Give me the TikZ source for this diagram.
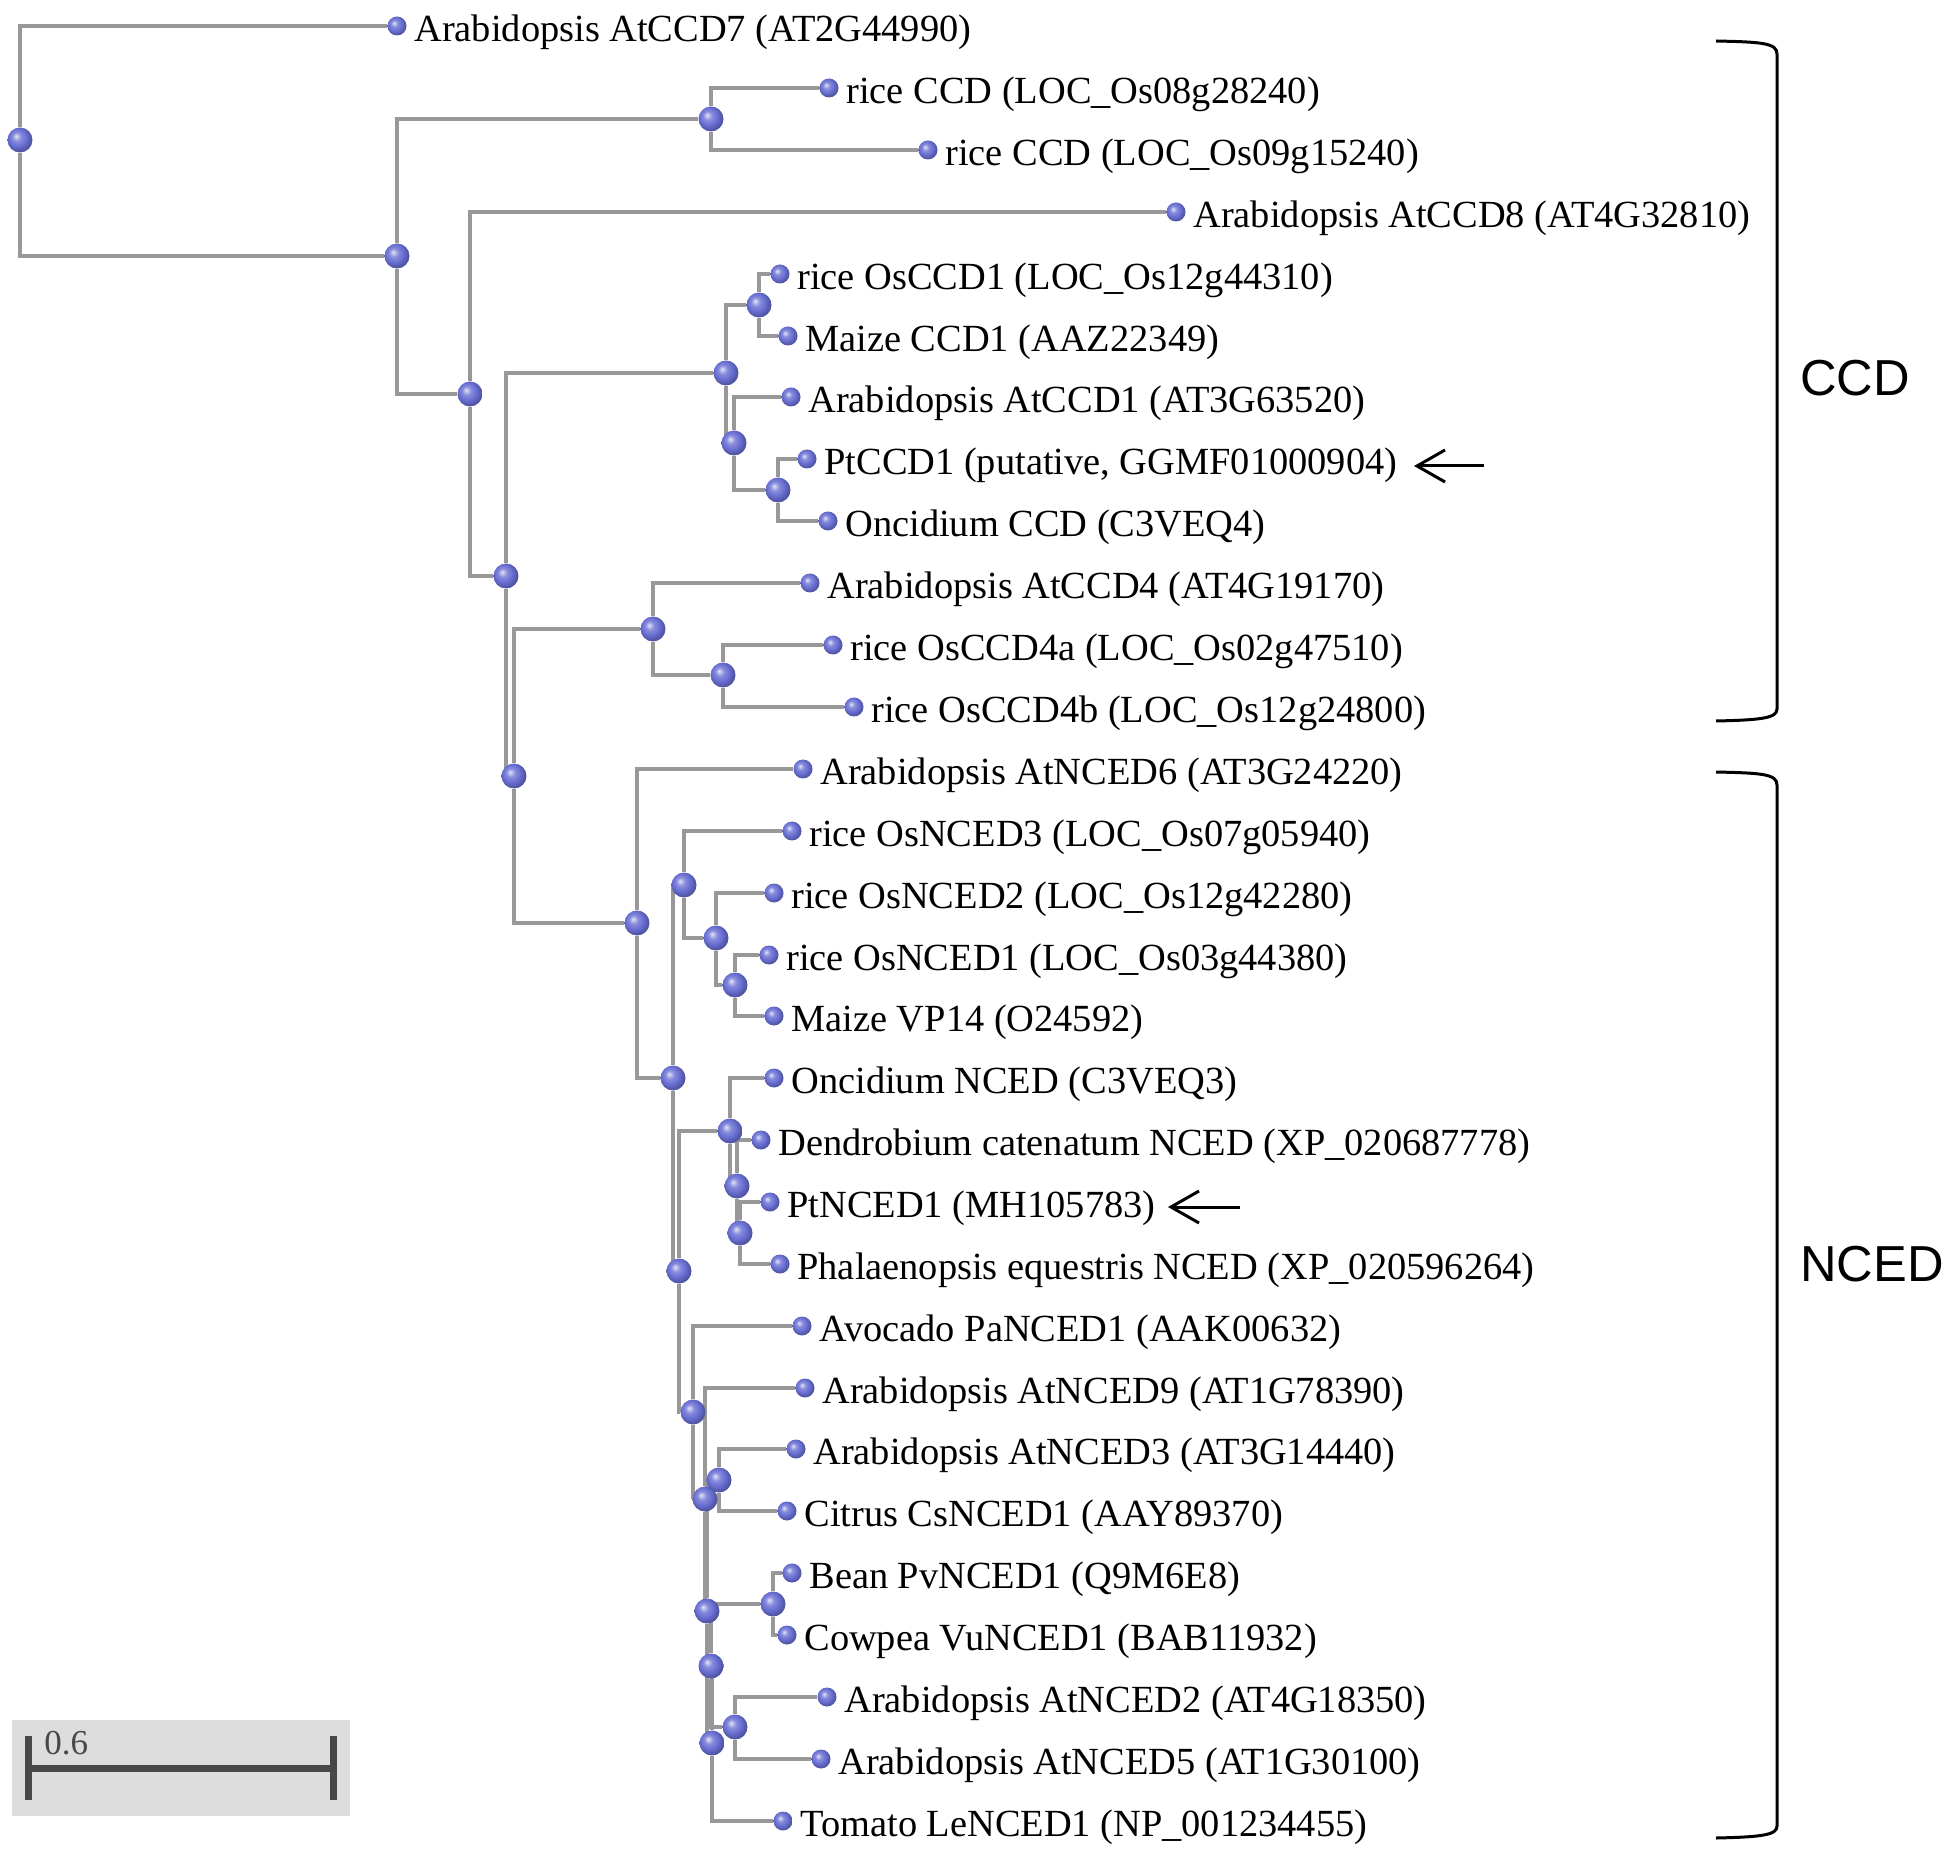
\documentclass[tikz,border=0pt]{standalone}
\usepackage{fontspec}
\setmainfont{Liberation Serif}
\newfontfamily\cladefont{Liberation Sans}
\usepackage{tikz}
\usetikzlibrary{arrows.meta, backgrounds, positioning}

\definecolor{branchgray}{RGB}{152,152,152}
\definecolor{ballblue}{RGB}{104,110,210}
\definecolor{scalebg}{RGB}{221,221,221}
\definecolor{scaledark}{RGB}{72,72,72}
\pgfdeclareradialshading{nodeball}{\pgfqpoint{-8bp}{8bp}}{color(0bp)=(ballblue!20!white); color(9bp)=(ballblue!80!white); color(18bp)=(ballblue); color(25bp)=(ballblue!80!black); color(50bp)=(ballblue!55!black)}

\begin{document}
\begin{tikzpicture}[x=0.5pt, y=-0.5pt,
			branch/.style={draw=branchgray, line width=1.7pt},
			inner/.style={circle, inner sep=0pt, minimum size=12.5pt, shade, shading=nodeball},
			leaf/.style={circle, inner sep=0pt, minimum size=9.5pt, shade, shading=nodeball},
			lab/.style={anchor=base west, inner sep=0pt, xshift=8.5pt, yshift=-7.75pt, font=\fontsize{19.2}{22}\selectfont},
			pointer/.style={-{Straight Barb[length=14pt,width=16pt]}, line width=1.5pt},
			brace/.style={line width=1.5pt},
			clade/.style={anchor=base west, inner sep=0pt, font=\cladefont\fontsize{25.3}{30}\selectfont}]
			
			\useasboundingbox (0,0) rectangle (1950,1850);
			
			\node[inner] (r) at (20,140) {};
			\node[inner] (n1) at (397,256) {};
			\node[inner] (n2) at (711,119) {};
			\node[inner] (n3) at (470,394) {};
			\node[inner] (n4) at (506,576) {};
			\node[inner] (n5) at (726,373) {};
			\node[inner] (n5a) at (759,305) {};
			\node[inner] (n5b) at (734,443) {};
			\node[inner] (n5c) at (778,490) {};
			\node[inner] (n6) at (514,776) {};
			\node[inner] (n6a) at (653,629) {};
			\node[inner] (n6b) at (723,675) {};
			\node[inner] (n7) at (637,923) {};
			\node[inner] (n8) at (673,1078) {};
			\node[inner] (n9) at (684,885) {};
			\node[inner] (n9a) at (716,938) {};
			\node[inner] (n9b) at (735,985) {};
			\node[inner] (n10) at (679,1271) {};
			\node[inner] (n10a) at (730,1131) {};
			\node[inner] (n10b) at (737,1186) {};
			\node[inner] (n10c) at (740,1233) {};
			\node[inner] (n11) at (693,1412) {};
			\node[inner] (n12) at (705,1499) {};
			\node[inner] (n13) at (707,1611) {};
			\node[inner] (n13a) at (719,1480) {};
			\node[inner] (n14) at (712,1743) {};
			\node[inner] (n15) at (711,1666) {};
			\node[inner] (n15a) at (773,1604) {};
			\node[inner] (n15b) at (735,1727) {};
			
			\node[leaf] (ccd7) at (397,26) {};     \node[lab] (ccd7-t) at (ccd7) {Arabidopsis AtCCD7 (AT2G44990)};
			\node[leaf] (os08) at (829,88) {};     \node[lab] (os08-t) at (os08) {rice CCD (LOC\_Os08g28240)};
			\node[leaf] (os09) at (928,150) {};    \node[lab] (os09-t) at (os09) {rice CCD (LOC\_Os09g15240)};
			\node[leaf] (ccd8) at (1176,212) {};   \node[lab] (ccd8-t) at (ccd8) {Arabidopsis AtCCD8 (AT4G32810)};
			\node[leaf] (osccd1) at (780,274) {};  \node[lab] (osccd1-t) at (osccd1) {rice OsCCD1 (LOC\_Os12g44310)};
			\node[leaf] (zmccd1) at (788,336) {};  \node[lab] (zmccd1-t) at (zmccd1) {Maize CCD1 (AAZ22349)};
			\node[leaf] (atccd1) at (791,397) {};  \node[lab] (atccd1-t) at (atccd1) {Arabidopsis AtCCD1 (AT3G63520)};
			\node[leaf] (ptccd1) at (807,459) {};  \node[lab] (ptccd1-t) at (ptccd1) {PtCCD1 (putative, GGMF01000904)};
			\node[leaf] (onccd) at (828,521) {};   \node[lab] (onccd-t) at (onccd) {Oncidium CCD (C3VEQ4)};
			\node[leaf] (atccd4) at (810,583) {};  \node[lab] (atccd4-t) at (atccd4) {Arabidopsis AtCCD4 (AT4G19170)};
			\node[leaf] (osccd4a) at (833,645) {}; \node[lab] (osccd4a-t) at (osccd4a) {rice OsCCD4a (LOC\_Os02g47510)};
			\node[leaf] (osccd4b) at (854,707) {}; \node[lab] (osccd4b-t) at (osccd4b) {rice OsCCD4b (LOC\_Os12g24800)};
			\node[leaf] (nced6) at (803,769) {};   \node[lab] (nced6-t) at (nced6) {Arabidopsis AtNCED6 (AT3G24220)};
			\node[leaf] (osnced3) at (792,831) {}; \node[lab] (osnced3-t) at (osnced3) {rice OsNCED3 (LOC\_Os07g05940)};
			\node[leaf] (osnced2) at (774,893) {}; \node[lab] (osnced2-t) at (osnced2) {rice OsNCED2 (LOC\_Os12g42280)};
			\node[leaf] (osnced1) at (769,955) {}; \node[lab] (osnced1-t) at (osnced1) {rice OsNCED1 (LOC\_Os03g44380)};
			\node[leaf] (vp14) at (774,1016) {};   \node[lab] (vp14-t) at (vp14) {Maize VP14 (O24592)};
			\node[leaf] (onnced) at (774,1078) {}; \node[lab] (onnced-t) at (onnced) {Oncidium NCED (C3VEQ3)};
			\node[leaf] (dcnced) at (761,1140) {}; \node[lab] (dcnced-t) at (dcnced) {Dendrobium catenatum NCED (XP\_020687778)};
			\node[leaf] (ptnced1) at (770,1202) {};\node[lab] (ptnced1-t) at (ptnced1) {PtNCED1 (MH105783)};
			\node[leaf] (penced) at (780,1264) {}; \node[lab] (penced-t) at (penced) {Phalaenopsis equestris NCED (XP\_020596264)};
			\node[leaf] (panced1) at (802,1326) {};\node[lab] (panced1-t) at (panced1) {Avocado PaNCED1 (AAK00632)};
			\node[leaf] (nced9) at (805,1388) {};  \node[lab] (nced9-t) at (nced9) {Arabidopsis AtNCED9 (AT1G78390)};
			\node[leaf] (nced3) at (796,1449) {};  \node[lab] (nced3-t) at (nced3) {Arabidopsis AtNCED3 (AT3G14440)};
			\node[leaf] (csnced1) at (787,1511) {};\node[lab] (csnced1-t) at (csnced1) {Citrus CsNCED1 (AAY89370)};
			\node[leaf] (pvnced1) at (792,1573) {};\node[lab] (pvnced1-t) at (pvnced1) {Bean PvNCED1 (Q9M6E8)};
			\node[leaf] (vunced1) at (787,1635) {};\node[lab] (vunced1-t) at (vunced1) {Cowpea VuNCED1 (BAB11932)};
			\node[leaf] (nced2) at (827,1697) {};  \node[lab] (nced2-t) at (nced2) {Arabidopsis AtNCED2 (AT4G18350)};
			\node[leaf] (nced5) at (821,1759) {};  \node[lab] (nced5-t) at (nced5) {Arabidopsis AtNCED5 (AT1G30100)};
			\node[leaf] (lenced1) at (783,1821) {};\node[lab] (lenced1-t) at (lenced1) {Tomato LeNCED1 (NP\_001234455)};
			
			\begin{scope}[on background layer]
				\draw[branch] (r) |- (ccd7);      \draw[branch] (r) |- (n1);
				\draw[branch] (n1) |- (n2);       \draw[branch] (n1) |- (n3);
				\draw[branch] (n2) |- (os08);     \draw[branch] (n2) |- (os09);
				\draw[branch] (n3) |- (ccd8);     \draw[branch] (n3) |- (n4);
				\draw[branch] (n4) |- (n5);       \draw[branch] (n4) |- (n6);
				\draw[branch] (n5) |- (n5a);      \draw[branch] (n5) |- (n5b);
				\draw[branch] (n5a) |- (osccd1);  \draw[branch] (n5a) |- (zmccd1);
				\draw[branch] (n5b) |- (atccd1);  \draw[branch] (n5b) |- (n5c);
				\draw[branch] (n5c) |- (ptccd1);  \draw[branch] (n5c) |- (onccd);
				\draw[branch] (n6) |- (n6a);      \draw[branch] (n6) |- (n7);
				\draw[branch] (n6a) |- (atccd4);  \draw[branch] (n6a) |- (n6b);
				\draw[branch] (n6b) |- (osccd4a); \draw[branch] (n6b) |- (osccd4b);
				\draw[branch] (n7) |- (nced6);    \draw[branch] (n7) |- (n8);
				\draw[branch] (n8) |- (n9);       \draw[branch] (n8) |- (n10);
				\draw[branch] (n9) |- (osnced3);  \draw[branch] (n9) |- (n9a);
				\draw[branch] (n9a) |- (osnced2); \draw[branch] (n9a) |- (n9b);
				\draw[branch] (n9b) |- (osnced1); \draw[branch] (n9b) |- (vp14);
				\draw[branch] (n10) |- (n10a);    \draw[branch] (n10) |- (n11);
				\draw[branch] (n10a) |- (onnced); \draw[branch] (n10a) |- (n10b);
				\draw[branch] (n10b) |- (dcnced); \draw[branch] (n10b) |- (n10c);
				\draw[branch] (n10c) |- (ptnced1);\draw[branch] (n10c) |- (penced);
				\draw[branch] (n11) |- (panced1); \draw[branch] (n11) |- (n12);
				\draw[branch] (n12) |- (nced9);   \draw[branch] (n12) |- (n13);
				\draw[branch] (n13) |- (n13a);    \draw[branch] (n13) |- (n14);
				\draw[branch] (n13a) |- (nced3);  \draw[branch] (n13a) |- (csnced1);
				\draw[branch] (n14) |- (n15);     \draw[branch] (n14) |- (lenced1);
				\draw[branch] (n15) |- (n15a);    \draw[branch] (n15) |- (n15b);
				\draw[branch] (n15a) |- (pvnced1);\draw[branch] (n15a) |- (vunced1);
				\draw[branch] (n15b) |- (nced2);  \draw[branch] (n15b) |- (nced5);
			\end{scope}
			
			\coordinate (ptccd1-a) at (1484,466);  \coordinate (ptccd1-b) at (1414,466);
			\coordinate (ptnced1-a) at (1240,1207); \coordinate (ptnced1-b) at (1168,1207);
			\draw[pointer] (ptccd1-a) -- (ptccd1-b);
			\draw[pointer] (ptnced1-a) -- (ptnced1-b);
			
			\draw[brace] (1716,41) .. controls (1762,42) and (1777,43) .. (1777,54) -- (1777,709) .. controls (1777,718) and (1762,720) .. (1716,721);
			\draw[brace] (1716,772) .. controls (1762,773) and (1777,774) .. (1777,785) -- (1777,1826) .. controls (1777,1835) and (1762,1837) .. (1716,1838);
			\node[clade] (ccd-lab) at (1800,396) {CCD};
			\node[clade] (nced-lab) at (1800,1281) {NCED};
			
			\fill[scalebg] (12,1720) rectangle (350,1816);
			\draw[scaledark, line width=3.5pt] (28,1768) -- (333,1768);
			\draw[scaledark, line width=3.5pt] (28,1736) -- (28,1800);
			\draw[scaledark, line width=3.5pt] (333,1736) -- (333,1800);
			\node[anchor=base west, inner sep=0pt, text=scaledark, font=\fontsize{17.5}{20}\selectfont] (scale-lab) at (44,1754) {0.6};
		\end{tikzpicture}
\end{document}
